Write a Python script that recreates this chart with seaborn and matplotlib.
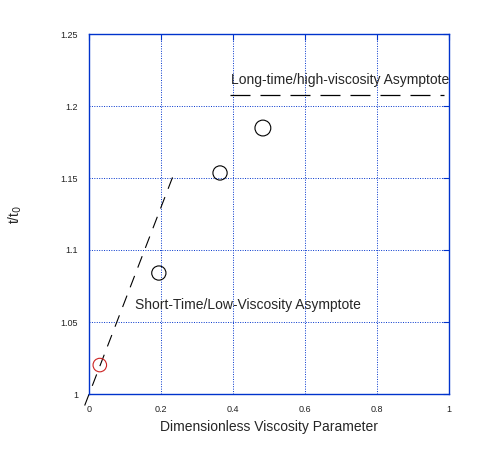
import numpy as np
import seaborn as sns
import matplotlib.pyplot as plt

# data
visc_param = [0.03, 0.194, 0.364, 0.483]
t_ratio = [1.0201, 1.084, 1.1535, 1.1847]
marker_colors = ["#cc2222", "black", "black", "black"]

short_x = [-0.012, 0.239]
short_y = [0.992, 1.155]
long_x = [0.392, 0.985]
long_y = [1.2076, 1.2076]

xticks = [0, 0.2, 0.4, 0.6, 0.8, 1]
xtick_labels = ["0", "0.2", "0.4", "0.6", "0.8", "1"]
yticks = [1, 1.05, 1.1, 1.15, 1.2, 1.25]
ytick_labels = ["1", "1.05", "1.1", "1.15", "1.2", "1.25"]

sns.set_style("white")
plt.rcParams['font.family'] = ['Liberation Sans', 'DejaVu Sans']

fig = plt.figure(figsize=(4.84, 4.53), dpi=100)
ax = fig.add_axes([89 / 484, 1 - 394 / 453, 360 / 484, 360 / 453])

blue = "#0033cc"

# asymptotes
sns.lineplot(x=short_x, y=short_y, ax=ax, color="black", lw=0.8,
             linestyle=(0, (11, 8)), clip_on=False)
sns.lineplot(x=long_x, y=long_y, ax=ax, color="black", lw=0.9,
             linestyle=(0, (16, 8)))

# data points
sns.scatterplot(x=visc_param, y=t_ratio, ax=ax, s=[95, 105, 105, 130],
                facecolors="none", edgecolor=marker_colors, linewidth=0.8,
                zorder=5)

ax.text(0.394, 1.2155, "Long-time/high-viscosity Asymptote", fontsize=10)
ax.text(0.128, 1.062, "Short-Time/Low-Viscosity Asymptote", fontsize=10,
        va="center")

ax.set_xlim(0, 1)
ax.set_ylim(1, 1.25)
ax.set_xticks(xticks)
ax.set_xticklabels(xtick_labels)
ax.set_yticks(yticks)
ax.set_yticklabels(ytick_labels)
ax.tick_params(direction="in", length=4, color=blue, labelsize=6.5,
               labelcolor="#222222", top=True, right=True, pad=8)
ax.grid(True, color=blue, linestyle=(0, (1, 1.5)), linewidth=0.7)
for sp in ax.spines.values():
    sp.set_color(blue)
    sp.set_linewidth(1)

ax.set_xlabel("Dimensionless Viscosity Parameter", fontsize=10, labelpad=4)
ax.set_ylabel("t/t$_0$", fontsize=10, labelpad=26)

fig.savefig("out.png", dpi=100)
